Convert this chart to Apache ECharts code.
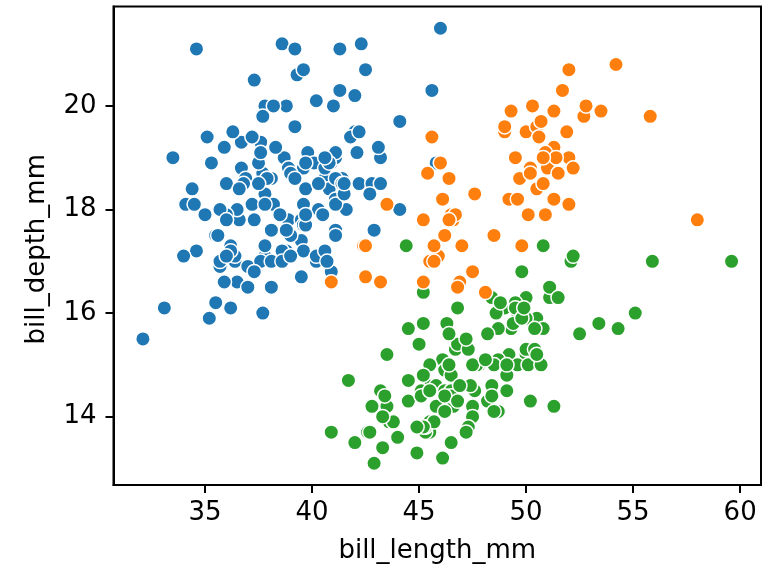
<!DOCTYPE html>
<html>
<head>
<meta charset="utf-8">
<script src="https://cdn.jsdelivr.net/npm/echarts@6/dist/echarts.min.js"></script>
<style>
html,body{margin:0;padding:0;background:#fff;}
#chart{width:766px;height:569px;}
</style>
</head>
<body>
<div id="chart"></div>
<script>
const adelieBillLength = [39.1,39.5,40.3,36.7,39.3,38.9,39.2,34.1,42.0,37.8,37.8,41.1,38.6,34.6,36.6,38.7,42.5,34.4,46.0,37.8,37.7,35.9,38.2,38.8,35.3,40.6,40.5,37.9,40.5,39.5,37.2,39.5,40.9,36.4,39.2,38.8,42.2,37.6,39.8,36.5,40.8,36.0,44.1,37.0,39.6,41.1,37.5,36.0,42.3,39.6,40.1,35.0,42.0,34.5,41.4,39.0,40.6,36.5,37.6,35.7,41.3,37.6,41.1,36.4,41.6,35.5,41.1,35.9,41.8,33.5,39.7,39.6,45.8,35.5,42.8,40.9,37.2,36.2,42.1,34.6,42.9,36.7,35.1,37.3,41.3,36.3,36.9,38.3,38.9,35.7,41.1,34.0,39.6,36.2,40.8,38.1,40.3,33.1,43.2,35.0,41.0,37.7,37.8,37.9,39.7,38.6,38.2,38.1,43.2,38.1,45.6,39.7,42.2,39.6,42.7,38.6,37.3,35.7,41.1,36.2,37.7,40.2,41.4,35.2,40.6,38.8,41.5,39.0,44.1,38.5,43.1,36.8,37.5,38.1,41.1,35.6,40.2,37.0,39.7,40.2,40.6,32.1,40.7,37.3,39.0,39.2,36.6,36.0,37.8,36.0,41.5];
const adelieBillDepth = [18.7,17.4,18.0,19.3,20.6,17.8,19.6,18.1,20.2,17.1,17.3,17.6,21.2,21.1,17.8,19.0,20.7,18.4,21.5,18.3,18.7,19.2,18.1,17.2,18.9,18.6,17.9,18.6,18.9,16.7,18.1,17.8,18.9,17.0,21.1,20.0,18.5,19.3,19.1,18.0,18.4,18.5,19.7,16.9,18.8,19.0,18.9,17.9,21.2,17.7,18.9,17.9,19.5,18.1,18.6,17.5,18.8,16.6,19.1,16.9,21.1,17.0,18.2,17.1,18.0,16.2,19.1,16.6,19.4,19.0,18.4,17.2,18.9,17.5,18.5,16.8,19.4,16.1,19.1,17.2,17.6,18.8,19.4,17.8,20.3,19.5,18.6,19.2,18.8,18.0,18.1,17.1,18.1,17.3,18.9,18.6,18.5,16.1,18.5,17.9,20.0,16.0,20.0,18.6,18.9,17.2,20.0,17.0,19.0,16.5,20.3,17.7,19.5,20.7,18.3,17.0,20.5,17.0,18.6,17.2,19.8,17.0,18.5,15.9,19.0,17.6,18.3,17.1,18.0,17.9,19.2,18.5,18.5,17.6,17.5,17.5,20.1,16.5,17.9,17.1,17.2,15.5,17.0,16.8,18.7,18.6,18.4,17.8,18.1,17.1,18.5];

const gentooBillLength = [46.1,50.0,48.7,50.0,47.6,46.5,45.4,46.7,43.3,46.8,40.9,49.0,45.5,48.4,45.8,49.3,42.0,49.2,46.2,48.7,50.2,45.1,46.5,46.3,42.9,46.1,44.5,47.8,48.2,50.0,47.3,42.8,45.1,59.6,49.1,48.4,42.6,44.4,44.0,48.7,42.7,49.6,45.3,49.6,50.5,43.6,45.5,50.5,44.9,45.2,46.6,48.5,45.1,50.1,46.5,45.0,43.8,45.5,43.2,50.4,45.3,46.2,45.7,54.3,45.8,49.8,46.2,49.5,43.5,50.7,47.7,46.4,48.2,46.5,46.4,48.6,47.5,51.1,45.2,45.2,49.1,52.5,47.4,50.0,44.9,50.8,43.4,51.3,47.5,52.1,47.5,52.2,45.5,49.5,44.5,50.8,49.4,46.9,48.4,51.1,48.5,55.9,47.2,49.1,47.3,46.8,41.7,53.4,43.3,48.1,50.5,49.8,43.5,51.5,46.2,55.1,44.5,48.8,47.2,46.8,50.4,45.2,49.9];
const gentooBillDepth = [13.2,16.3,14.1,15.2,14.5,13.5,14.6,15.3,13.4,15.4,13.7,16.1,13.7,14.6,14.6,15.7,13.5,15.2,14.5,15.1,14.3,14.5,14.5,15.8,13.1,15.1,14.3,15.0,14.3,15.3,15.3,14.2,14.5,17.0,14.8,16.3,13.7,17.3,13.6,15.7,13.7,16.0,13.7,15.0,15.9,13.9,13.9,15.9,13.3,15.8,14.2,14.1,14.4,15.0,14.4,15.4,13.9,15.0,14.5,15.3,13.8,14.9,13.9,15.7,14.2,16.8,14.4,16.2,14.2,15.0,15.0,15.6,15.6,14.8,15.0,16.0,14.2,16.3,13.8,16.4,14.5,15.6,14.6,15.9,13.8,17.3,14.4,14.2,14.0,17.0,15.0,17.1,14.5,16.1,14.7,15.7,15.8,14.6,14.4,16.5,15.0,17.0,15.5,15.0,13.8,16.1,14.7,15.8,14.0,15.1,15.2,15.9,15.2,16.3,14.1,16.0,15.7,16.2,13.7,14.3,15.7,14.8,16.1];

const chinstrapBillLength = [46.5,50.0,51.3,45.4,52.7,45.2,46.1,51.3,46.0,51.3,46.6,51.7,47.0,52.0,45.9,50.5,50.3,58.0,46.4,49.2,42.4,48.5,43.2,50.6,46.7,52.0,50.5,49.5,46.4,52.8,40.9,54.2,42.5,51.0,49.7,47.5,47.6,52.0,46.9,53.5,49.0,46.2,50.9,45.5,50.9,50.8,50.1,49.0,51.5,49.8,48.1,51.4,45.7,50.7,42.5,52.2,45.2,49.3,50.2,45.6,51.9,46.8,45.7,55.8,43.5,49.6,50.8,50.2];
const chinstrapBillDepth = [17.9,19.5,19.2,18.7,19.8,17.8,18.2,18.2,18.9,19.9,17.8,20.3,17.3,18.1,17.1,19.6,20.0,17.8,18.6,18.2,17.3,17.5,16.6,19.4,17.9,19.0,18.4,19.0,17.8,20.0,16.6,20.8,16.7,18.8,18.6,16.8,18.3,20.7,16.6,19.9,19.5,17.5,19.1,17.0,17.9,18.5,17.9,19.6,18.7,17.3,16.4,19.0,17.3,19.7,17.3,18.8,16.6,19.9,18.8,19.4,19.5,16.5,17.0,19.8,18.1,18.2,19.0,18.7];

const xTicks = [35, 40, 45, 50, 55, 60];
const yTicks = [14, 16, 18, 20];
const xName = 'bill_length_mm';
const yName = 'bill_depth_mm';
const speciesColors = ['#1f77b4', '#2ca02c', '#ff7f0e'];

function zip(a, b) { return a.map((v, i) => [v, b[i]]); }

const FONT = '"DejaVu Sans", sans-serif';
const FS = 26;
const axisCommon = {
  type: 'value',
  scale: true,
  splitLine: { show: false },
  axisLine: { show: true, onZero: false, lineStyle: { color: '#000', width: 2 } },
  axisTick: { show: true, length: 8, lineStyle: { color: '#000', width: 2 } },
};

const chart = echarts.init(document.getElementById('chart'), null, { renderer: 'canvas' });
chart.setOption({
  animation: false,
  backgroundColor: '#fff',
  grid: { left: 113.5, right: 5, top: 6.5, bottom: 83, show: true, borderColor: '#000', borderWidth: 2, containLabel: false },
  xAxis: Object.assign({}, axisCommon, {
    min: 30.725, max: 60.975,
    name: xName, nameLocation: 'middle', nameGap: 53,
    nameTextStyle: { color: '#000', fontSize: FS, fontFamily: FONT },
    axisTick: Object.assign({}, axisCommon.axisTick, { customValues: xTicks }),
    axisLabel: { customValues: xTicks, color: '#000', fontSize: FS, fontFamily: FONT, margin: 15 },
  }),
  yAxis: Object.assign({}, axisCommon, {
    min: 12.68, max: 21.92,
    name: yName, nameLocation: 'middle', nameGap: 63,
    nameTextStyle: { color: '#000', fontSize: FS, fontFamily: FONT, padding: [0, 7, 0, 0] },
    axisTick: Object.assign({}, axisCommon.axisTick, { customValues: yTicks }),
    axisLabel: { customValues: yTicks, color: '#000', fontSize: FS, fontFamily: FONT, margin: 17 },
  }),
  series: [
    { type: 'scatter', data: zip(adelieBillLength, adelieBillDepth), color: speciesColors[0] },
    { type: 'scatter', data: zip(gentooBillLength, gentooBillDepth), color: speciesColors[1] },
    { type: 'scatter', data: zip(chinstrapBillLength, chinstrapBillDepth), color: speciesColors[2] },
  ].map(s => Object.assign(s, {
    symbol: 'circle', symbolSize: 14.5,
    itemStyle: { color: s.color, borderColor: '#fff', borderWidth: 1.5, opacity: 1 },
    emphasis: { disabled: true },
  })),
});
</script>
</body>
</html>
